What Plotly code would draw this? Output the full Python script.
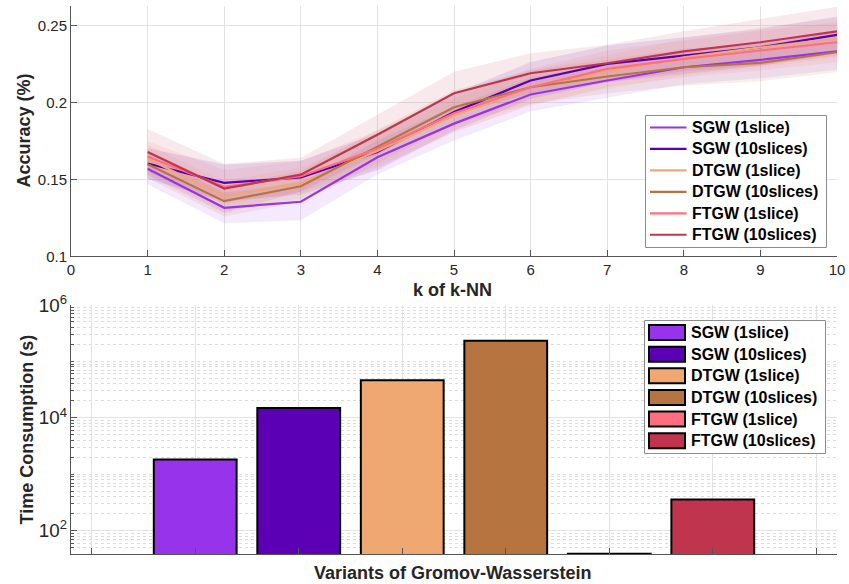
import plotly.graph_objects as go

# ---- data -------------------------------------------------------------
k_values = [1, 2, 3, 4, 5, 6, 7, 8, 9, 10]
variants = ["SGW (1slice)", "SGW (10slices)", "DTGW (1slice)",
            "DTGW (10slices)", "FTGW (1slice)", "FTGW (10slices)"]
colors = ["#9733EB", "#5B00B4", "#F0A872", "#B67540", "#FF6E7F", "#C0354E"]

acc_sgw1 = [0.1570, 0.1316, 0.1355, 0.1645, 0.1864, 0.2054, 0.2145, 0.2231, 0.2279, 0.2335]
acc_sgw10 = [0.1604, 0.1478, 0.1513, 0.1680, 0.1939, 0.2145, 0.2253, 0.2307, 0.2361, 0.2442]
acc_dtgw1 = [0.1636, 0.1392, 0.1478, 0.1685, 0.1917, 0.2101, 0.2200, 0.2296, 0.2360, 0.2420]
acc_dtgw10 = [0.1600, 0.1359, 0.1456, 0.1712, 0.1971, 0.2101, 0.2171, 0.2231, 0.2260, 0.2329]
acc_ftgw1 = [0.1650, 0.1452, 0.1521, 0.1700, 0.1932, 0.2101, 0.2221, 0.2286, 0.2340, 0.2394]
acc_ftgw10 = [0.1679, 0.1441, 0.1532, 0.1792, 0.2062, 0.2192, 0.2257, 0.2335, 0.2394, 0.2465]

std_sgw1 = [0.010, 0.010, 0.012, 0.011, 0.011, 0.011, 0.011, 0.011, 0.012, 0.012]
std_sgw10 = [0.010, 0.012, 0.011, 0.012, 0.012, 0.012, 0.012, 0.012, 0.012, 0.012]
std_dtgw1 = [0.009, 0.010, 0.010, 0.011, 0.011, 0.011, 0.011, 0.012, 0.013, 0.013]
std_dtgw10 = [0.009, 0.010, 0.010, 0.011, 0.011, 0.011, 0.011, 0.012, 0.012, 0.013]
std_ftgw1 = [0.010, 0.011, 0.010, 0.012, 0.012, 0.012, 0.012, 0.012, 0.013, 0.013]
std_ftgw10 = [0.015, 0.016, 0.011, 0.013, 0.014, 0.013, 0.012, 0.013, 0.015, 0.016]

time_seconds = [1830, 15000, 46600, 232000, 39, 357]
bar_positions = [1, 2, 3, 4, 5, 6]

acc_means = [acc_sgw1, acc_sgw10, acc_dtgw1, acc_dtgw10, acc_ftgw1, acc_ftgw10]
acc_stds = [std_sgw1, std_sgw10, std_dtgw1, std_dtgw10, std_ftgw1, std_ftgw10]

# ---- styling helpers ----------------------------------------------------
W, H = 849, 584
FONT = "Liberation Sans, Arial, Helvetica, sans-serif"
TXT = "#262626"
GRID = "#e3e3e3"
AXIS = "#555555"


def px_x(p):
    return p / W


def px_y(p):
    return 1 - p / H


def rgba(hex_color, a):
    h = hex_color.lstrip("#")
    r, g, b = int(h[0:2], 16), int(h[2:4], 16), int(h[4:6], 16)
    return f"rgba({r},{g},{b},{a})"


fig = go.Figure()

# ---- top panel: accuracy vs k with shaded std bands ---------------------
for name, col, mean, std in zip(variants, colors, acc_means, acc_stds):
    upper = [m + s for m, s in zip(mean, std)]
    lower = [m - s for m, s in zip(mean, std)]
    fig.add_trace(go.Scatter(
        x=k_values + k_values[::-1], y=upper + lower[::-1],
        fill="toself", fillcolor=rgba(col, 0.11), line=dict(width=0),
        mode="lines", hoverinfo="skip", showlegend=False,
        xaxis="x", yaxis="y"))

for name, col, mean in zip(variants, colors, acc_means):
    fig.add_trace(go.Scatter(
        x=k_values, y=mean, mode="lines", name=name,
        line=dict(color=col, width=2.2), showlegend=False,
        xaxis="x", yaxis="y"))

# ---- bottom panel: time consumption bars (log scale) --------------------
for name, col, pos, val in zip(variants, colors, bar_positions, time_seconds):
    fig.add_trace(go.Bar(
        x=[pos], y=[val], name=name, width=0.8,
        marker=dict(color=col, line=dict(color="black", width=2)),
        showlegend=False, xaxis="x2", yaxis="y2"))

x_dom = [px_x(71), px_x(837)]

axis_common = dict(
    showline=True, linecolor=AXIS, linewidth=1, mirror=False,
    ticks="inside", tickcolor=AXIS, ticklen=6,
    gridcolor=GRID, gridwidth=1, zeroline=False,
    tickfont=dict(family=FONT, size=15, color=TXT),
    automargin=False,
)

fig.update_layout(
    width=W, height=H,
    margin=dict(l=0, r=0, t=0, b=0),
    paper_bgcolor="white", plot_bgcolor="white",
    barmode="overlay", showlegend=False,
    font=dict(family=FONT, color=TXT),
    xaxis=dict(domain=x_dom, anchor="y", range=[0, 10], tickvals=list(range(0, 11)),
               showgrid=True, **axis_common),
    yaxis=dict(domain=[px_y(256.3), px_y(6)], anchor="x", range=[0.1, 0.263],
               tickvals=[0.1, 0.15, 0.2, 0.25], ticktext=["0.1", "0.15", "0.2", "0.25"],
               showgrid=True, **axis_common),
    xaxis2=dict(domain=x_dom, anchor="y2", range=[-0.2, 7.2], tickvals=list(range(0, 8)),
                showticklabels=False, showgrid=True, **axis_common),
    yaxis2=dict(domain=[px_y(554), px_y(305)], anchor="x2", type="log",
                range=[1.5866, 6], dtick=2, exponentformat="power",
                showgrid=True,
                minor=dict(dtick="D1", showgrid=True, gridcolor="#dcdcdc",
                           griddash="dot", ticks="inside", ticklen=3,
                           tickcolor=AXIS),
                **axis_common),
)

# axis titles
title_font = dict(family=FONT, size=18, color=TXT, weight="bold")
annotations = [
    dict(text="Accuracy (%)", x=px_x(23.5), y=px_y(131), textangle=-90),
    dict(text="k of k-NN", x=px_x(452), y=px_y(290)),
    dict(text="Time Consumption (s)", x=px_x(26.5), y=px_y(430), textangle=-90),
    dict(text="Variants of Gromov-Wasserstein", x=px_x(452), y=px_y(573)),
]
for a in annotations:
    a.update(xref="paper", yref="paper", showarrow=False,
             xanchor="center", yanchor="middle", font=title_font)

legend_font = dict(family=FONT, size=16, color="black", weight="bold")
shapes = []


def add_legend(box, first_c, row_h, swatch):
    """Boxed legend; swatch is 'line' or 'bar'."""
    l, r, t, b = box
    shapes.append(dict(type="rect", xref="paper", yref="paper",
                       x0=px_x(l), x1=px_x(r), y0=px_y(b), y1=px_y(t),
                       fillcolor="white", line=dict(color="#8c8c8c", width=1),
                       layer="above"))
    for i, (name, col) in enumerate(zip(variants, colors)):
        cy = first_c + i * row_h
        if swatch == "line":
            shapes.append(dict(type="line", xref="paper", yref="paper",
                               x0=px_x(l + 4.5), x1=px_x(l + 41), y0=px_y(cy), y1=px_y(cy),
                               line=dict(color=col, width=2.2), layer="above"))
            tx = l + 44.5
        else:
            shapes.append(dict(type="rect", xref="paper", yref="paper",
                               x0=px_x(l + 4.5), x1=px_x(l + 40.5),
                               y0=px_y(cy + 7.5), y1=px_y(cy - 7.5),
                               fillcolor=col, line=dict(color="black", width=2),
                               layer="above"))
            tx = l + 44.5
        annotations.append(dict(text=name, xref="paper", yref="paper", showarrow=False,
                                x=px_x(tx), y=px_y(cy), xanchor="left", yanchor="middle",
                                font=legend_font))


add_legend((645.5, 826.5, 115.5, 247.5), 127.5, 21.45, "line")
add_legend((644.5, 825.5, 320.5, 453.5), 332.5, 21.65, "bar")

fig.update_layout(shapes=shapes, annotations=annotations)

fig.write_html("out.html")
